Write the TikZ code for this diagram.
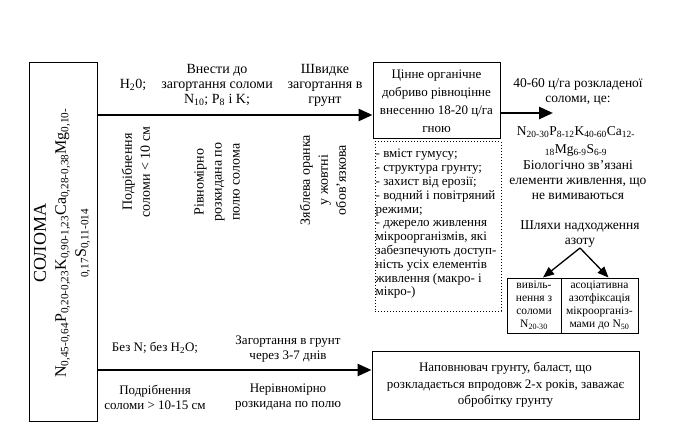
\documentclass[tikz,border=0pt]{standalone}
\usepackage{fontspec}
\setmainfont{Liberation Serif}
\usetikzlibrary{arrows.meta}
\begin{document}
\begin{tikzpicture}[x=1pt,y=-1pt,
  box/.style={draw, line width=1pt, inner sep=0pt, align=center},
  txt/.style={align=center, inner sep=0pt, font=\fontsize{13}{15}\selectfont},
  toptxt/.style={align=center, inner sep=0pt, font=\fontsize{14}{15}\selectfont},
  rot/.style={align=center, inner sep=0pt, rotate=90, font=\fontsize{14}{18}\selectfont},
  bigarrow/.style={line width=2.6pt, -{Triangle[length=14pt,width=12pt]}},
  thinarrow/.style={line width=1.3pt, -{Triangle[length=11pt,width=9pt]}},
]
\useasboundingbox (0,0) rectangle (681,444);
% left box
\node[box, minimum width=68pt, minimum height=358pt] (solom) at (63,242) {};
\node[rotate=90, align=center, inner sep=0pt, font=\fontsize{16}{20}\selectfont] (soltxt) at (62,243)
 {{\fontsize{18}{20}\selectfont СОЛОМА}\\
  N\textsubscript{0,45-0,64}P\textsubscript{0,20-0,23}K\textsubscript{0,90-1,23}Ca\textsubscript{0,28-0,38}Mg\textsubscript{0,10-}\\
  \textsubscript{0,17}S\textsubscript{0,11-014}};
% top arrow
\node[box, minimum width=127pt, minimum height=76pt, font=\fontsize{13}{18}\selectfont] (b1) at (436.5,101)
 {Цінне органічне\\ добриво рівноцінне\\ внесенню 18-20 ц/га\\ гною};
\coordinate (l1) at (solom.east |- 0,115);
\draw[bigarrow] (l1) -- (b1.west |- l1);
\node[toptxt] (h2o) at (133,85) {H\textsubscript{2}0;};
\node[toptxt] (vn) at (217,85) {Внести до\\ загортання соломи\\ N\textsubscript{10}; P\textsubscript{8} і K;};
\node[toptxt] (shv) at (325,85) {Швидке\\ загортання в\\ грунт};
\node[rot] (r1) at (136,172) {Подрібнення\\ соломи < 10 см};
\node[rot] (r2) at (217,182) {Рівномірно\\ розкидана по\\ полю солома};
\node[rot] (r3) at (323,180) {Зяблева оранка\\ у жовтні\\ обов'язкова};
% dotted box
\node[draw, dotted, line width=1pt, minimum width=126pt, minimum height=169pt, inner sep=0pt] (b2) at (438,226.5) {};
\node[anchor=north west, align=left, inner sep=0pt, font=\fontsize{13}{13.8}\selectfont] (b2t) at (375.5,149)
 {- вміст гумусу;\\
  - структура грунту;\\
  - захист від ерозії;\\
  - водний і повітряний\\
  режими;\\
  - джерело живлення\\
  мікроорганізмів, які\\
  забезпечують доступ-\\
  ність усіх елементів\\
  живлення (макро- і\\
  мікро-)};
% right part
\coordinate (r1s) at (b1.east |- 0,113);
\coordinate (r1e) at (553,113);
\draw[bigarrow] (r1s) -- (r1e);
\node[txt, font=\fontsize{13.5}{15}\selectfont] (t40) at (578,92) {40-60 ц/га розкладеної\\ соломи, це:};
\node[txt, font=\fontsize{13.5}{18}\selectfont] (form2) at (576,141)
 {N\textsubscript{20-30}P\textsubscript{8-12}K\textsubscript{40-60}Ca\textsubscript{12-}\\ \textsubscript{18}Mg\textsubscript{6-9}S\textsubscript{6-9}};
\node[txt, font=\fontsize{13.5}{15}\selectfont] (bio) at (578,180) {Біологічно зв'язані\\ елементи живлення, що\\ не вимиваються};
\node[txt, font=\fontsize{13.5}{15}\selectfont] (shl) at (580,234) {Шляхи надходження\\ азоту};
\node[box, minimum width=54pt, minimum height=55pt, font=\fontsize{11.5}{13}\selectfont] (c1) at (534,305.5)
 {вивіль-\\ нення з\\ соломи\\ N\textsubscript{20-30}};
\node[box, minimum width=77pt, minimum height=55pt, font=\fontsize{11.5}{13}\selectfont] (c2) at (599.5,305.5)
 {асоціативна\\ азотфіксація\\ мікроорганіз-\\ мами до N\textsubscript{50}};
\coordinate (apex) at (580,248);
\draw[thinarrow] (apex) -- ([xshift=9pt]c1.north);
\draw[thinarrow] (apex) -- ([xshift=9pt]c2.north);
% bottom
\node[box, minimum width=267pt, minimum height=68pt, font=\fontsize{13}{16.5}\selectfont] (b3) at (505.5,385)
 {Наповнювач грунту, баласт, що\\ розкладається впродовж 2-х років, заважає\\ обробітку грунту};
\coordinate (l2) at (solom.east |- 0,370);
\draw[bigarrow] (l2) -- (b3.west |- l2);
\node[txt] (bn) at (155,348) {Без N; без H\textsubscript{2}O;};
\node[txt] (zg) at (288,349) {Загортання в грунт\\ через 3-7 днів};
\node[txt] (pd) at (155,397) {Подрібнення\\ соломи > 10-15 см};
\node[txt] (nr) at (288,397) {Нерівномірно\\ розкидана по полю};
\end{tikzpicture}
\end{document}
